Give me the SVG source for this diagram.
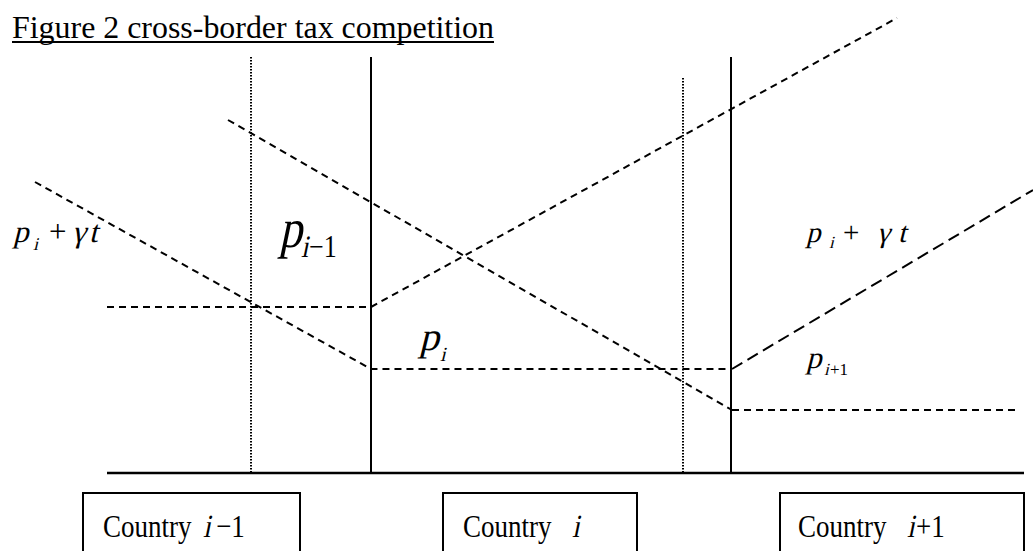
<svg xmlns="http://www.w3.org/2000/svg" width="1033" height="551" viewBox="0 0 1033 551">
<style>
.t{font-family:"Liberation Serif","Times New Roman",serif;fill:#000}
.solid{stroke:#000;stroke-width:2;fill:none}
.dot{stroke:#000;stroke-width:2;stroke-dasharray:1.5 1.5;fill:none}
.dash{stroke:#000;stroke-width:2;stroke-dasharray:7 5;fill:none}
.dashL{stroke:#000;stroke-width:2;stroke-dasharray:12 6;fill:none}
.box{stroke:#000;stroke-width:2;fill:#fff}
</style>
<rect width="1033" height="551" fill="#fff"/>
<g id="title">
<text class="t" x="12" y="38" font-size="31" textLength="482" lengthAdjust="spacingAndGlyphs">Figure 2 cross-border tax competition</text>
<line x1="12" y1="42" x2="494" y2="42" stroke="#000" stroke-width="2"/>
</g>
<g id="connectors">
<line class="solid" x1="371" y1="57" x2="371" y2="473"/>
<line class="solid" x1="731" y1="57" x2="731" y2="473"/>
<line class="dot" x1="251" y1="57" x2="251" y2="473"/>
<line class="dot" x1="683" y1="78" x2="683" y2="473"/>
<line x1="107" y1="473" x2="1024" y2="473" stroke="#000" stroke-width="2.5"/>
<polyline class="dash" points="228,120 732,410"/>
<line class="dash" x1="732" y1="410" x2="1020" y2="410" stroke-dasharray="8 5"/>
<polyline class="dash" points="35,182 371,369 731,369"/>
<polyline class="dash" points="107,307 371,307 897,18"/>
<polyline class="dashL" points="732,369 1033,190"/>
</g>
<g id="label-left">
<text class="t" font-size="31" transform="translate(13,242) skewX(-14)">p</text>
<text class="t" font-size="18" transform="translate(33,250) skewX(-14)">i</text>
<text class="t" font-size="31" x="49" y="242">+</text>
<text class="t" font-size="31" transform="translate(72,242) skewX(-14)">γ</text>
<text class="t" font-size="31" transform="translate(89,242) skewX(-14)">t</text>
</g>
<g id="label-pim1">
<text class="t" font-size="46" transform="translate(279,247) scale(1,1.2) skewX(-14)">p</text>
<text class="t" font-size="26" transform="translate(301,257) scale(1,1.2) skewX(-14)">i</text>
<text class="t" font-size="26" transform="translate(309,257) scale(1,1.2)">−1</text>
</g>
<g id="label-pi">
<text class="t" font-size="40" transform="translate(419,350) skewX(-14)">p</text>
<text class="t" font-size="20" transform="translate(440,361) skewX(-14)">i</text>
</g>
<g id="label-right">
<text class="t" font-size="29" transform="translate(806,242) skewX(-14)">p</text>
<text class="t" font-size="17" transform="translate(829,248) skewX(-14)">i</text>
<text class="t" font-size="29" x="843" y="242">+</text>
<text class="t" font-size="29" transform="translate(877,242) skewX(-14)">γ</text>
<text class="t" font-size="29" transform="translate(898,242) skewX(-14)">t</text>
</g>
<g id="label-pip1">
<text class="t" font-size="31" transform="translate(806,368) skewX(-14)">p</text>
<text class="t" font-size="17" transform="translate(824,375) skewX(-14)">i</text>
<text class="t" font-size="17" x="830" y="375">+1</text>
</g>
<g id="country-im1">
<rect class="box" x="83" y="493" width="217" height="70"/>
<text class="t" font-size="27" transform="translate(103,537) scale(1,1.2)">Country</text>
<text class="t" font-size="27" transform="translate(203,537) scale(1,1.2) skewX(-14)">i</text>
<text class="t" font-size="27" transform="translate(216,537) scale(1,1.2)">−1</text>
</g>
<g id="country-i">
<rect class="box" x="443" y="493" width="194" height="70"/>
<text class="t" font-size="27" transform="translate(463,537) scale(1,1.2)">Country</text>
<text class="t" font-size="27" transform="translate(572,537) scale(1,1.2) skewX(-14)">i</text>
</g>
<g id="country-ip1">
<rect class="box" x="780" y="493" width="244" height="70"/>
<text class="t" font-size="27" transform="translate(798,537) scale(1,1.2)">Country</text>
<text class="t" font-size="27" transform="translate(907,537) scale(1,1.2) skewX(-14)">i</text>
<text class="t" font-size="27" transform="translate(916,537) scale(1,1.2)">+1</text>
</g>
</svg>
